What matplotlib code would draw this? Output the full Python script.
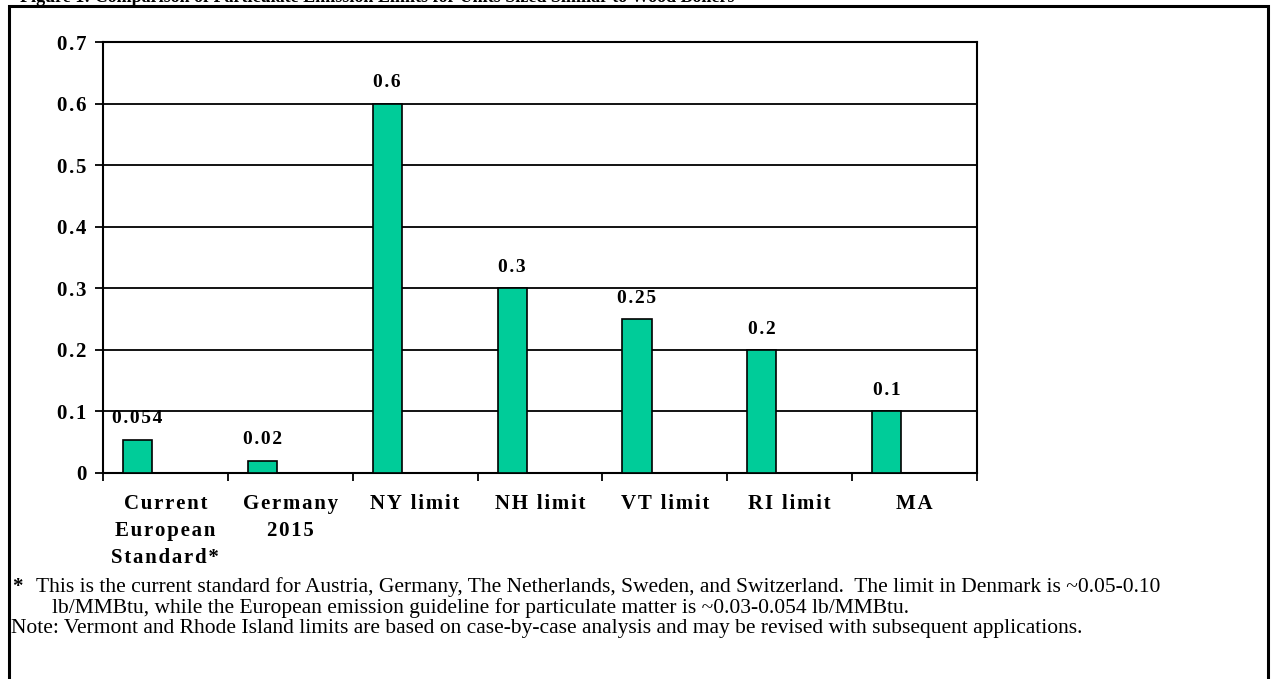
import matplotlib.pyplot as plt
import matplotlib.patches as patches
import numpy as np

# Data
categories = ['Current\nEuropean\nStandard*', 'Germany\n2015', 'NY limit', 'NH limit',
              'VT limit', 'RI limit', 'MA']
limits = [0.054, 0.02, 0.6, 0.3, 0.25, 0.2, 0.1]
value_labels = ['0.054', '0.02', '0.6', '0.3', '0.25', '0.2', '0.1']
y_ticks = [0, 0.1, 0.2, 0.3, 0.4, 0.5, 0.6, 0.7]
y_tick_labels = ['0', '0.1', '0.2', '0.3', '0.4', '0.5', '0.6', '0.7']

title_text = 'Figure 1: Comparison of Particulate Emission Limits for Units Sized Similar to Wood Boilers'
footnote_star = ('This is the current standard for Austria, Germany, The Netherlands, Sweden, and Switzerland.  '
                 'The limit in Denmark is ~0.05-0.10')
footnote_star2 = 'lb/MMBtu, while the European emission guideline for particulate matter is ~0.03-0.054 lb/MMBtu.'
footnote_note = ('Note: Vermont and Rhode Island limits are based on case-by-case analysis '
                 'and may be revised with subsequent applications.')

BAR_COLOR = '#00CC99'
SERIF = 'Liberation Serif'
HAIR = '\u200a'


def spaced(label):
    # Excel-style expanded letter spacing
    return '\n'.join(HAIR.join(line) for line in label.split('\n'))


fig = plt.figure(figsize=(12.72, 6.79), dpi=100)
ax = fig.add_axes([103 / 1272, 1 - 473 / 679, 874 / 1272, 431 / 679])

x = np.arange(len(categories))
ax.bar(x + 0.277, limits, width=0.233, color=BAR_COLOR, edgecolor='black',
       linewidth=1.2, zorder=3)

for xi, v, lab in zip(x, limits, value_labels):
    ax.annotate(spaced(lab), (xi + 0.277, v), xytext=(0, 15), textcoords='offset points',
                ha='center', va='center', fontsize=14, fontweight='bold',
                family=SERIF)

ax.set_xlim(0, len(categories))
ax.set_ylim(0, 0.7)
ax.set_yticks(y_ticks)
ax.set_yticklabels([spaced(t) for t in y_tick_labels], fontsize=15, fontweight='bold',
                   family=SERIF)
ax.tick_params(axis='y', direction='out', length=6, width=1.3, pad=6)

# boundaries get the tick marks, labels sit in the middle of each category
ax.set_xticks(np.arange(len(categories) + 1))
ax.set_xticklabels([])
ax.set_xticks(x + 0.5, minor=True)
ax.set_xticklabels([spaced(c) for c in categories], minor=True, fontsize=15,
                   fontweight='bold', family=SERIF, linespacing=1.47, va='top')
ax.tick_params(axis='x', which='major', direction='out', length=6, width=1.3)
ax.tick_params(axis='x', which='minor', length=0, pad=15)

ax.grid(axis='y', color='black', linewidth=1.3, zorder=0)
for s in ax.spines.values():
    s.set_linewidth(1.5)
    s.set_color('black')

# outer frame of the figure box (runs off the bottom)
fig.patches.append(patches.Rectangle((9 / 1272, -0.05), 1259 / 1272, 1.05 - 6 / 679,
                                     transform=fig.transFigure, fill=False,
                                     edgecolor='black', linewidth=2.2))

# page title above the frame, mostly cut off by the top edge like in the scan
fig.text(20 / 1272, 1 - 1.5 / 679, title_text, fontsize=13, fontweight='bold',
         family=SERIF, va='baseline', ha='left')

fig.text(12 / 1272, 1 - 587 / 679, '*', fontsize=15, fontweight='bold',
         family=SERIF, va='center', ha='left')
fig.text(36 / 1272, 1 - 587 / 679, footnote_star, fontsize=15.5, family=SERIF,
         va='center', ha='left')
fig.text(52 / 1272, 1 - 608 / 679, footnote_star2, fontsize=15.5, family=SERIF,
         va='center', ha='left')
fig.text(11 / 1272, 1 - 629 / 679, footnote_note, fontsize=15.5, family=SERIF,
         va='center', ha='left')

fig.savefig('out.png', dpi=100, facecolor='white')
